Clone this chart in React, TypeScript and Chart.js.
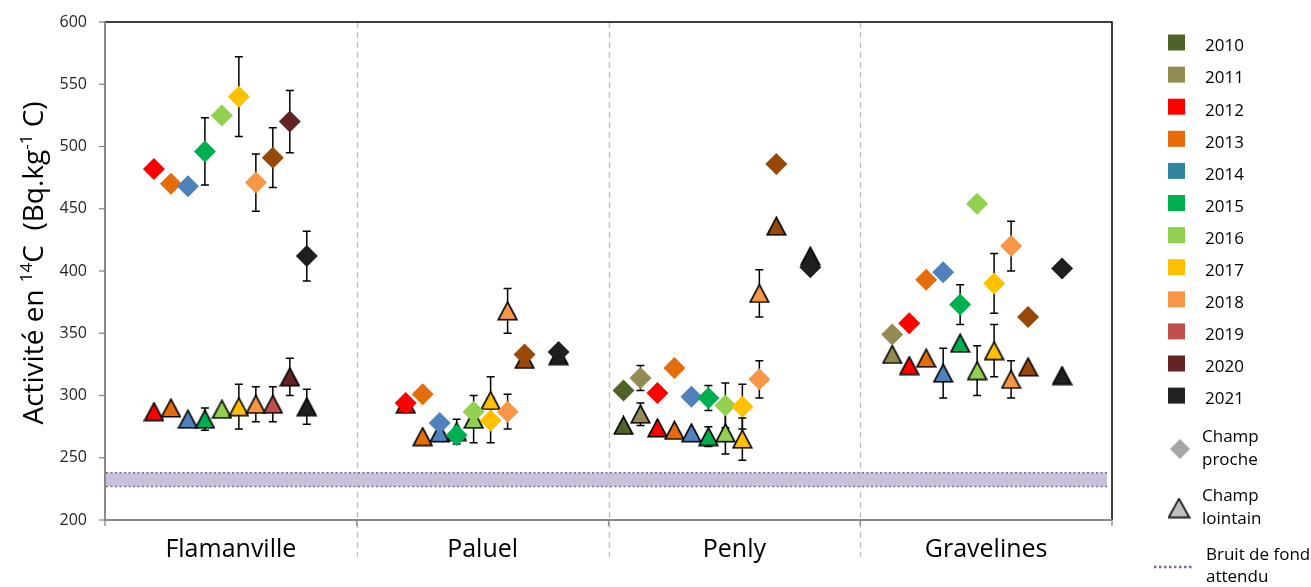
import React, { useEffect, useRef } from 'react';
import { Chart, registerables } from 'chart.js';

Chart.register(...registerables);

// ---------- DATA ----------
const sites = ['Flamanville', 'Paluel', 'Penly', 'Gravelines'];
const years = ['2010', '2011', '2012', '2013', '2014', '2015', '2016', '2017', '2018', '2019', '2020', '2021'];
const siteTickValues = [0.5, 1.5, 2.5, 3.5];
const yMin = 200;
const yMax = 600;
const yStep = 50;
const bandLow = 227;
const bandHigh = 238;

// Champ proche (diamonds)
const procheFlamanville = [null, null, 482, 470, 468, 496, 525, 540, 471, 491, 520, 412];
const procheErrFlamanville = [0, 0, 0, 0, 0, 27, 0, 32, 23, 24, 25, 20];
const prochePaluel = [null, null, 294, 301, 278, 268, 287, 280, 287, 333, null, 335];
const procheErrPaluel = [0, 0, 0, 0, 0, 0, 0, 18, 14, 0, 0, 0];
const prochePenly = [304, 314, 302, 322, 299, 298, 292, 291, 313, 486, null, 403];
const procheErrPenly = [0, 10, 0, 0, 0, 10, 18, 18, 15, 0, 0, 0];
const procheGravelines = [null, 349, 358, 393, 399, 373, 454, 390, 420, 363, null, 402];
const procheErrGravelines = [0, 0, 0, 0, 0, 16, 0, 24, 20, 0, 0, 0];

// Champ lointain (triangles)
const lointainFlamanville = [null, null, 287, 290, 281, 281, 289, 291, 293, 293, 315, 291];
const lointainErrFlamanville = [0, 0, 0, 0, 0, 9, 0, 18, 14, 14, 15, 14];
const lointainPaluel = [null, null, 293, 267, 270, 271, 281, 296, 368, 329, null, 332];
const lointainErrPaluel = [0, 0, 0, 0, 0, 10, 19, 19, 18, 0, 0, 0];
const lointainPenly = [276, 285, 274, 272, 270, 267, 270, 265, 382, 436, null, 412];
const lointainErrPenly = [0, 9, 0, 0, 0, 8, 17, 17, 19, 0, 0, 0];
const lointainGravelines = [null, 333, 324, 330, 318, 342, 320, 336, 313, 323, null, 316];
const lointainErrGravelines = [0, 0, 0, 0, 20, 0, 20, 21, 15, 0, 0, 0];

// ---------- STYLE ----------
const markerColors = ['#4F6228', '#948A54', '#FF0000', '#E46C0A', '#4F81BD', '#00B050', '#92D050', '#FFC000', '#F79646', '#984807', '#632523', '#1F1F1F'];
const flamanvilleFarColors = ['#4F6228', '#948A54', '#FF0000', '#E46C0A', '#4F81BD', '#00B050', '#92D050', '#FFC000', '#F79646', '#C0504D', '#632523', '#1F1F1F'];
const legendColors = ['#4F6228', '#948A54', '#FF0000', '#E46C0A', '#31859C', '#00B050', '#92D050', '#FFC000', '#F79646', '#C0504D', '#632523', '#222222'];
const FONT = '"Open Sans", "Noto Sans", sans-serif';

const procheSets = [
  [procheFlamanville, procheErrFlamanville],
  [prochePaluel, procheErrPaluel],
  [prochePenly, procheErrPenly],
  [procheGravelines, procheErrGravelines],
];
const lointainSets = [
  [lointainFlamanville, lointainErrFlamanville],
  [lointainPaluel, lointainErrPaluel],
  [lointainPenly, lointainErrPenly],
  [lointainGravelines, lointainErrGravelines],
];

const pos = (s: number, j: number) => s + (15 + 17 * j) / 252;

type Pt = { x: number; y: number; c: string; e: number };

function buildPoints(sets: any[], far: boolean): Pt[] {
  const out: Pt[] = [];
  sets.forEach(([vals, errs]: any, s: number) => {
    vals.forEach((v: number | null, j: number) => {
      if (v == null) return;
      const c = far && s === 0 ? flamanvilleFarColors[j] : markerColors[j];
      out.push({ x: pos(s, j), y: v, c, e: errs[j] });
    });
  });
  return out;
}

const triCache: Record<string, HTMLCanvasElement> = {};
function triImg(color: string, w = 21, h = 20): HTMLCanvasElement {
  const key = color + w + 'x' + h;
  if (triCache[key]) return triCache[key];
  const c = document.createElement('canvas');
  c.width = w;
  c.height = h;
  const g = c.getContext('2d')!;
  g.beginPath();
  g.moveTo(w / 2, 1.2);
  g.lineTo(w - 1.2, h - 1.2);
  g.lineTo(1.2, h - 1.2);
  g.closePath();
  g.fillStyle = color;
  g.fill();
  g.lineWidth = 1.6;
  g.strokeStyle = '#000';
  g.lineJoin = 'miter';
  g.stroke();
  triCache[key] = c;
  return c;
}

const decor = {
  id: 'decor',
  beforeDatasetsDraw(chart: any) {
    const { ctx, chartArea, scales } = chart;
    const { left, right, top, bottom } = chartArea;
    const x = scales.x;
    const y = scales.y;
    ctx.save();
    // background band
    const yH = y.getPixelForValue(bandHigh);
    const yL = y.getPixelForValue(bandLow);
    ctx.fillStyle = '#CCC1DA';
    ctx.fillRect(left + 1, yH, right - left - 6, yL - yH);
    ctx.strokeStyle = '#8064A2';
    ctx.lineWidth = 1.5;
    ctx.setLineDash([2, 2.5]);
    [yH, yL].forEach((py) => {
      ctx.beginPath();
      ctx.moveTo(left + 1, py);
      ctx.lineTo(right - 5, py);
      ctx.stroke();
    });
    // separators
    ctx.strokeStyle = '#BFBFBF';
    ctx.lineWidth = 1.3;
    ctx.setLineDash([6, 4]);
    for (let s = 1; s < sites.length; s++) {
      const px = Math.round(x.getPixelForValue(s)) + 0.5;
      ctx.beginPath();
      ctx.moveTo(px, top);
      ctx.lineTo(px, bottom + 37);
      ctx.stroke();
    }
    ctx.setLineDash([]);
    // error bars
    ctx.strokeStyle = '#000';
    ctx.lineWidth = 1.5;
    chart.data.datasets.forEach((ds: any) => {
      ds.data.forEach((p: Pt) => {
        if (!p.e) return;
        const px = x.getPixelForValue(p.x);
        const p1 = y.getPixelForValue(p.y + p.e);
        const p2 = y.getPixelForValue(p.y - p.e);
        ctx.beginPath();
        ctx.moveTo(px, p1);
        ctx.lineTo(px, p2);
        ctx.moveTo(px - 4, p1);
        ctx.lineTo(px + 4, p1);
        ctx.moveTo(px - 4, p2);
        ctx.lineTo(px + 4, p2);
        ctx.stroke();
      });
    });
    ctx.restore();
  },
  afterDraw(chart: any) {
    const { ctx, chartArea, scales } = chart;
    const { left, right, top, bottom } = chartArea;
    const x = scales.x;
    const y = scales.y;
    ctx.save();
    // frame: top & right black
    ctx.strokeStyle = '#000';
    ctx.lineWidth = 1.5;
    ctx.beginPath();
    ctx.moveTo(left, top);
    ctx.lineTo(right, top);
    ctx.lineTo(right, bottom);
    ctx.stroke();
    // axes gray
    ctx.strokeStyle = '#898989';
    ctx.lineWidth = 2;
    ctx.beginPath();
    ctx.moveTo(left, top);
    ctx.lineTo(left, bottom);
    ctx.lineTo(right, bottom);
    ctx.stroke();
    ctx.lineWidth = 1.3;
    for (let v = yMin; v <= yMax; v += yStep) {
      const py = y.getPixelForValue(v);
      ctx.beginPath();
      ctx.moveTo(left - 6, py);
      ctx.lineTo(left, py);
      ctx.stroke();
    }
    for (let s = 0; s <= sites.length; s++) {
      const px = x.getPixelForValue(s);
      ctx.beginPath();
      ctx.moveTo(px, bottom);
      ctx.lineTo(px, bottom + 6);
      ctx.stroke();
    }

    // y-axis title with superscripts
    const segs = [
      { t: 'Activité en ', sup: false },
      { t: '14', sup: true },
      { t: 'C  (Bq.kg', sup: false },
      { t: '-1', sup: true },
      { t: ' C)', sup: false },
    ];
    const mainF = `28px ${FONT}`;
    const supF = `17px ${FONT}`;
    let total = 0;
    segs.forEach((sg) => {
      ctx.font = sg.sup ? supF : mainF;
      total += ctx.measureText(sg.t).width;
    });
    ctx.translate(34, 263);
    ctx.rotate(-Math.PI / 2);
    ctx.fillStyle = '#000';
    ctx.textBaseline = 'alphabetic';
    ctx.textAlign = 'left';
    let cx = -total / 2;
    segs.forEach((sg) => {
      ctx.font = sg.sup ? supF : mainF;
      ctx.fillText(sg.t, cx, sg.sup ? -2 : 9);
      cx += ctx.measureText(sg.t).width;
    });
    ctx.setTransform(1, 0, 0, 1, 0, 0);

    // legend
    ctx.textAlign = 'left';
    ctx.textBaseline = 'middle';
    ctx.font = `17px ${FONT}`;
    ctx.fillStyle = '#000';
    years.forEach((yr, i) => {
      const cy = 46.5 + 32.1 * i;
      ctx.fillStyle = legendColors[i];
      ctx.fillRect(1168, cy - 12, 17, 16);
      ctx.fillStyle = '#000';
      ctx.fillText(yr, 1205, cy);
    });
    // diamond
    ctx.fillStyle = '#A6A6A6';
    ctx.beginPath();
    ctx.moveTo(1180 - 10, 449);
    ctx.lineTo(1180, 439);
    ctx.lineTo(1180 + 10, 449);
    ctx.lineTo(1180, 459);
    ctx.closePath();
    ctx.fill();
    ctx.fillStyle = '#000';
    ctx.fillText('Champ', 1202, 437);
    ctx.fillText('proche', 1202, 460);
    const tri = triImg('#BFBFBF', 23, 21);
    ctx.drawImage(tri, 1179 - 11.5, 508 - 10.5);
    ctx.fillText('Champ', 1202, 496);
    ctx.fillText('lointain', 1202, 519);
    ctx.strokeStyle = '#8064A2';
    ctx.lineWidth = 2.5;
    ctx.setLineDash([2.5, 2.5]);
    ctx.beginPath();
    ctx.moveTo(1154, 567);
    ctx.lineTo(1194, 567);
    ctx.stroke();
    ctx.setLineDash([]);
    ctx.fillText('Bruit de fond', 1206, 555);
    ctx.fillText('attendu', 1206, 577);
    ctx.restore();
  },
};

export default function App() {
  const ref = useRef<HTMLCanvasElement>(null);
  useEffect(() => {
    const procheData = buildPoints(procheSets, false);
    const lointainData = buildPoints(lointainSets, true);
    const chart = new Chart(ref.current as HTMLCanvasElement, {
      type: 'scatter',
      data: {
        datasets: [
          {
            label: 'Champ proche',
            data: procheData as any,
            pointStyle: 'rectRot',
            pointRadius: 11,
            pointBackgroundColor: (c: any) => (c.raw ? c.raw.c : '#A6A6A6'),
            pointBorderWidth: 0,
            borderWidth: 0,
            showLine: false,
          } as any,
          {
            label: 'Champ lointain',
            data: lointainData as any,
            pointStyle: (c: any) => (c.raw ? triImg(c.raw.c) : 'triangle'),
            pointRadius: 10,
            pointBackgroundColor: (c: any) => (c.raw ? c.raw.c : '#BFBFBF'),
            pointBorderWidth: 0,
            borderWidth: 0,
            showLine: false,
          } as any,
        ],
      },
      options: {
        animation: false,
        responsive: false,
        events: [],
        layout: { padding: { left: 0, top: 22, right: 199, bottom: 0 } },
        plugins: {
          legend: { display: false },
          tooltip: { enabled: false },
          title: { display: false },
          subtitle: { display: false },
        },
        scales: {
          x: {
            type: 'linear',
            min: 0,
            max: sites.length,
            offset: false,
            afterBuildTicks: (s: any) => {
              s.ticks = siteTickValues.map((v) => ({ value: v }));
            },
            afterFit: (s: any) => {
              s.height = 67;
              s.paddingLeft = 0;
              s.paddingRight = 0;
            },
            grid: { display: false, drawTicks: false },
            border: { display: false },
            ticks: {
              autoSkip: false,
              maxRotation: 0,
              padding: 15,
              color: '#000',
              font: { family: FONT, size: 25 },
              callback: (_v: any, i: number) => sites[i],
            },
          },
          y: {
            min: yMin,
            max: yMax,
            afterFit: (s: any) => {
              s.width = 105;
              s.paddingTop = 0;
              s.paddingBottom = 0;
            },
            grid: { display: false, drawTicks: false },
            border: { display: false },
            ticks: {
              stepSize: yStep,
              padding: 18,
              color: '#262626',
              font: { family: FONT, size: 16 },
            },
          },
        },
      } as any,
      plugins: [decor],
    });
    return () => chart.destroy();
  }, []);
  return (
    <div style={{ position: 'absolute', left: 0, top: 0, width: 1311, height: 587, background: '#fff' }}>
      <canvas ref={ref} width={1311} height={587} style={{ width: 1311, height: 587, display: 'block' }} />
    </div>
  );
}
